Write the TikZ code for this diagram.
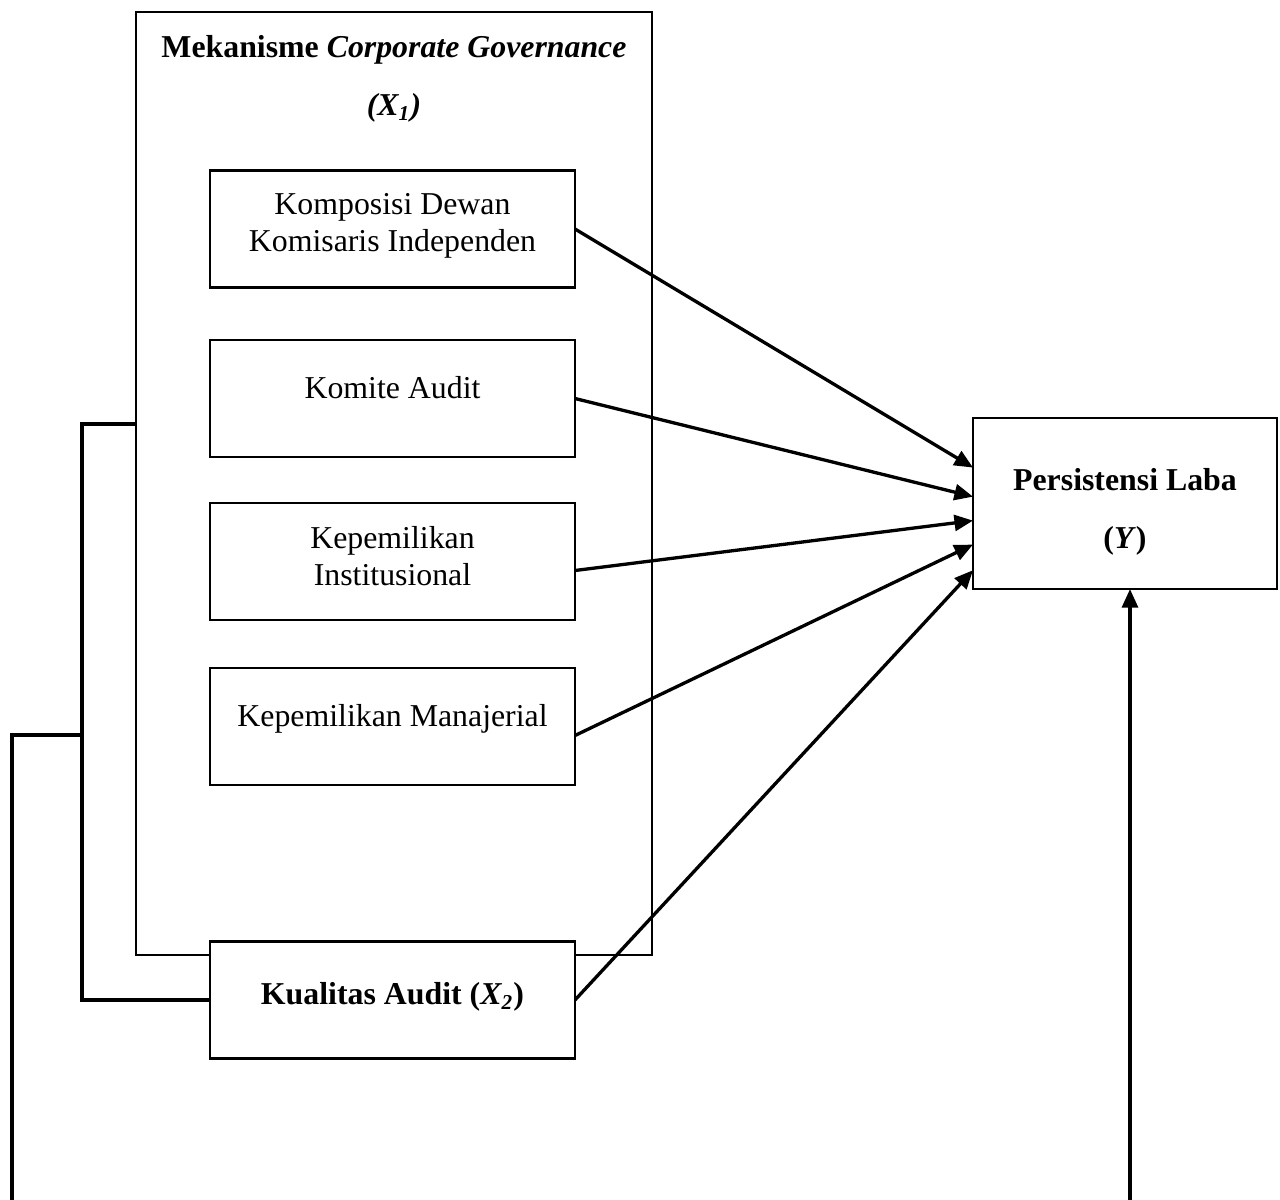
\documentclass[tikz,border=0pt]{standalone}
\usepackage{fontspec}
\setmainfont{Liberation Serif}
\usetikzlibrary{arrows.meta, calc}

\tikzset{
  varbox/.style={draw, line width=0.95pt, fill=white, inner sep=0pt, outer sep=0pt,
                 align=center, minimum width=137.6pt, minimum height=44.1pt,
                 font=\fontsize{12}{14}\selectfont},
  link/.style={line width=1.25pt, -{Triangle[length=7pt, width=6pt]}},
  joint/.style={line width=1.25pt},
}
\newcommand{\lowstrut}[1]{\rule[-#1]{0pt}{#1}}

\begin{document}
\begin{tikzpicture}[x=0.377pt, y=-0.377pt]
  \useasboundingbox (0,0) rectangle (1280,1200);
  % kotak besar X1
  \node[draw, line width=0.65pt, inner sep=0pt, outer sep=0pt,
        minimum width=194.5pt, minimum height=355.5pt] (cg) at (394,483.5) {};
  \node[font=\fontsize{12}{21.9}\selectfont\bfseries, align=center] (cgtitle) at (394,79)
    {Mekanisme \textit{Corporate Governance}\\\textit{(X\textsubscript{1})}};

  \node[varbox] (k1) at (392.5,229) {Komposisi Dewan\\Komisaris Independen\lowstrut{5pt}};
  \node[varbox] (k2) at (392.5,398.5) {Komite Audit\lowstrut{8pt}};
  \node[varbox] (k3) at (392.5,561.5) {Kepemilikan\\Institusional\lowstrut{4pt}};
  \node[varbox] (k4) at (392.5,726.5) {Kepemilikan Manajerial\lowstrut{8pt}};
  \node[varbox, font=\fontsize{12}{14}\selectfont\bfseries] (ka) at (392.5,1000)
    {Kualitas Audit (\textit{X\textsubscript{2}})\lowstrut{5pt}};

  % variabel dependen
  \node[varbox, minimum width=114.6pt, minimum height=64.5pt,
        font=\fontsize{12}{21.9}\selectfont\bfseries] (pl) at (1125,503.5)
    {\rule{0pt}{14.5pt}Persistensi Laba\\(\textit{Y})};

  \draw[link] (k1.east) -- ($(pl.north west)!0.29!(pl.south west)$);
  \draw[link] (k2.east) -- ($(pl.north west)!0.46!(pl.south west)$);
  \draw[link] ($(k3.east)+(0,9)$) -- ($(pl.north west)!0.60!(pl.south west)$);
  \draw[link] ($(k4.east)+(0,9)$) -- ($(pl.north west)!0.74!(pl.south west)$);
  \draw[link] (ka.east) -- ($(pl.north west)!0.89!(pl.south west)$);

  % garis penghubung kiri
  \coordinate (jn) at (82,735);
  \coordinate (lowl) at (12,1200);
  \coordinate (lowr) at (1130,1200);
  \draw[joint] ($(cg.north west)!0.437!(cg.south west)$) -| (jn) |- (ka.west);
  \draw[joint] (jn) -| (lowl);
  \draw[link] (lowr) -- (lowr |- pl.south);
\end{tikzpicture}
\end{document}
